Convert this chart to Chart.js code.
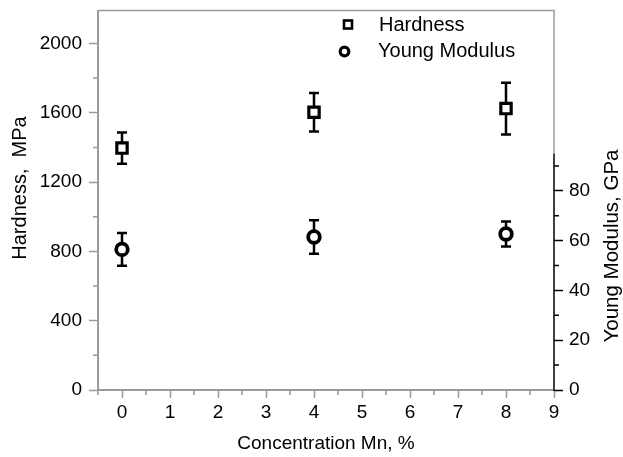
<!DOCTYPE html>
<html><head><meta charset="utf-8">
<script src="https://cdn.jsdelivr.net/npm/chart.js@4"></script>
<style>html,body{margin:0;padding:0;background:#fff;}#wrap{width:623px;height:457px;}</style>
</head><body><div id="wrap"><canvas id="c" width="623" height="457"></canvas></div>
<script>
// ---- data ----
const concentrations = [0, 4, 8];
const hardness = [1396, 1603, 1624];
const hardnessErr = [90, 111, 149];
const modulus = [56.5, 61.5, 62.7];
const modulusErr = [6.6, 6.7, 5.0];
const seriesLabels = ['Hardness', 'Young Modulus'];
// ---- ticks ----
const xTicks = [0, 1, 2, 3, 4, 5, 6, 7, 8, 9];
const xMinorTicks = [-0.5, 0.5, 1.5, 2.5, 3.5, 4.5, 5.5, 6.5, 7.5, 8.5];
const hardnessTicks = [0, 400, 800, 1200, 1600, 2000];
const hardnessMinorTicks = [200, 600, 1000, 1400, 1800];
const modulusTicks = [0, 20, 40, 60, 80];
const modulusMinorTicks = [10, 30, 50, 70, 90];
const modulusAxisEnd = 95;
const axisTitles = { x: 'Concentration Mn, %', y: 'Hardness,  MPa', y2: 'Young Modulus, GPa' };

const FONT = '"Liberation Sans", Arial, sans-serif';
const GRAY = '#9a9a9a';
const INK = '#000';

function rotatedText(ctx, text, x, y, size) {
  ctx.save();
  ctx.fillStyle = INK;
  ctx.font = size + 'px ' + FONT;
  ctx.textAlign = 'center'; ctx.textBaseline = 'middle';
  ctx.translate(x, y);
  ctx.rotate(-Math.PI / 2);
  ctx.fillText(text, 0, 0);
  ctx.restore();
}

const decor = {
  id: 'decor',
  beforeDatasetsDraw(chart) {
    const ctx = chart.ctx, xs = chart.scales.x;
    const sets = [[chart.scales.y, hardness, hardnessErr], [chart.scales.y2, modulus, modulusErr]];
    ctx.save();
    ctx.strokeStyle = INK; ctx.lineWidth = 2.5; ctx.lineCap = 'butt';
    sets.forEach(([ys, vals, errs]) => {
      vals.forEach((v, i) => {
        const px = xs.getPixelForValue(concentrations[i]);
        const t = ys.getPixelForValue(v + errs[i]);
        const b = ys.getPixelForValue(v - errs[i]);
        ctx.beginPath();
        ctx.moveTo(px, t); ctx.lineTo(px, b);
        ctx.moveTo(px - 5, t); ctx.lineTo(px + 5, t);
        ctx.moveTo(px - 5, b); ctx.lineTo(px + 5, b);
        ctx.stroke();
      });
    });
    ctx.restore();
  },
  afterDraw(chart) {
    const ctx = chart.ctx, a = chart.chartArea;
    const xs = chart.scales.x, ys = chart.scales.y, y2 = chart.scales.y2;
    ctx.save();
    // minor ticks
    ctx.lineWidth = 1.5;
    ctx.strokeStyle = GRAY;
    ctx.beginPath();
    xMinorTicks.forEach(v => { const p = xs.getPixelForValue(v); ctx.moveTo(p, a.bottom); ctx.lineTo(p, a.bottom + 5); });
    hardnessMinorTicks.forEach(v => { const p = ys.getPixelForValue(v); ctx.moveTo(a.left, p); ctx.lineTo(a.left - 5, p); });
    ctx.stroke();
    ctx.strokeStyle = INK;
    ctx.beginPath();
    modulusMinorTicks.forEach(v => { const p = y2.getPixelForValue(v); ctx.moveTo(a.right, p); ctx.lineTo(a.right + 5, p); });
    ctx.stroke();
    // frame
    const yEnd = y2.getPixelForValue(modulusAxisEnd);
    ctx.strokeStyle = GRAY; ctx.lineWidth = 1.5;
    ctx.beginPath();
    ctx.moveTo(a.left, a.top); ctx.lineTo(a.right, a.top); ctx.lineTo(a.right, yEnd);
    ctx.stroke();
    ctx.strokeStyle = INK; ctx.lineWidth = 1.5;
    ctx.beginPath();
    ctx.moveTo(a.right, yEnd); ctx.lineTo(a.right, y2.getPixelForValue(0) + 1);
    ctx.stroke();
    ctx.restore();
    // axis titles (read bottom to top)
    rotatedText(ctx, axisTitles.y, 20, 188, 20);
    rotatedText(ctx, axisTitles.y2, 612, 246, 20.5);
    // legend
    ctx.save();
    ctx.strokeStyle = INK;
    ctx.lineWidth = 2.6;
    ctx.strokeRect(344, 20.5, 8, 8);
    ctx.lineWidth = 3.2;
    ctx.beginPath(); ctx.arc(344.5, 51.5, 4.3, 0, Math.PI * 2); ctx.stroke();
    ctx.fillStyle = INK;
    ctx.font = '20px ' + FONT;
    ctx.textAlign = 'left'; ctx.textBaseline = 'middle';
    ctx.fillText(seriesLabels[0], 379, 25);
    ctx.fillText(seriesLabels[1], 378, 51);
    ctx.restore();
  }
};

const setTicks = arr => s => { s.ticks = arr.map(v => ({ value: v })); };
const plain = v => String(v);
const fitV = w => s => { s.width = w; s.paddingTop = 0; s.paddingBottom = 0; };

new Chart(document.getElementById('c'), {
  type: 'scatter',
  data: {
    datasets: [
      { label: seriesLabels[0], yAxisID: 'y',
        data: concentrations.map((c, i) => ({ x: c, y: hardness[i] })),
        pointStyle: 'rect', pointRadius: 7.3, pointHoverRadius: 7.3, pointBorderWidth: 3.2,
        borderColor: INK, backgroundColor: '#fff' },
      { label: seriesLabels[1], yAxisID: 'y2',
        data: concentrations.map((c, i) => ({ x: c, y: modulus[i] })),
        pointStyle: 'circle', pointRadius: 5.8, pointHoverRadius: 5.8, pointBorderWidth: 3.8,
        borderColor: INK, backgroundColor: '#fff' }
    ]
  },
  options: {
    responsive: false, animation: false, devicePixelRatio: 1,
    layout: { padding: { top: 10, left: 0, right: 0, bottom: 0 } },
    plugins: { legend: { display: false }, tooltip: { enabled: false } },
    scales: {
      x: {
        type: 'linear', position: 'bottom', min: -0.5, max: 9,
        afterBuildTicks: setTicks(xTicks),
        afterFit: s => { s.height = 67; s.paddingLeft = 0; s.paddingRight = 0; },
        border: { display: true, color: GRAY, width: 2 },
        grid: { display: true, drawOnChartArea: false, drawTicks: true, tickLength: 8, tickColor: GRAY, tickWidth: 1.5 },
        ticks: { color: INK, font: { family: FONT, size: 19 }, padding: 3, maxRotation: 0, callback: plain },
        title: { display: true, text: axisTitles.x, color: INK, font: { family: FONT, size: 19 }, padding: { top: 0, bottom: 2 } }
      },
      y: {
        type: 'linear', position: 'left', min: 0, max: 2190,
        afterBuildTicks: setTicks(hardnessTicks),
        afterFit: fitV(98),
        border: { display: true, color: GRAY, width: 2 },
        grid: { display: true, drawOnChartArea: false, drawTicks: true, tickLength: 9, tickColor: GRAY, tickWidth: 1.5 },
        ticks: { color: INK, font: { family: FONT, size: 19 }, padding: 7, callback: plain },
        title: { display: false }
      },
      y2: {
        type: 'linear', position: 'right', min: 0, max: 152.5,
        afterBuildTicks: setTicks(modulusTicks),
        afterFit: fitV(69),
        border: { display: false },
        grid: { display: true, drawOnChartArea: false, drawTicks: true, tickLength: 9, tickColor: INK, tickWidth: 1.5 },
        ticks: { color: INK, font: { family: FONT, size: 19 }, padding: 6, callback: plain },
        title: { display: false }
      }
    }
  },
  plugins: [decor]
});
</script></body></html>
